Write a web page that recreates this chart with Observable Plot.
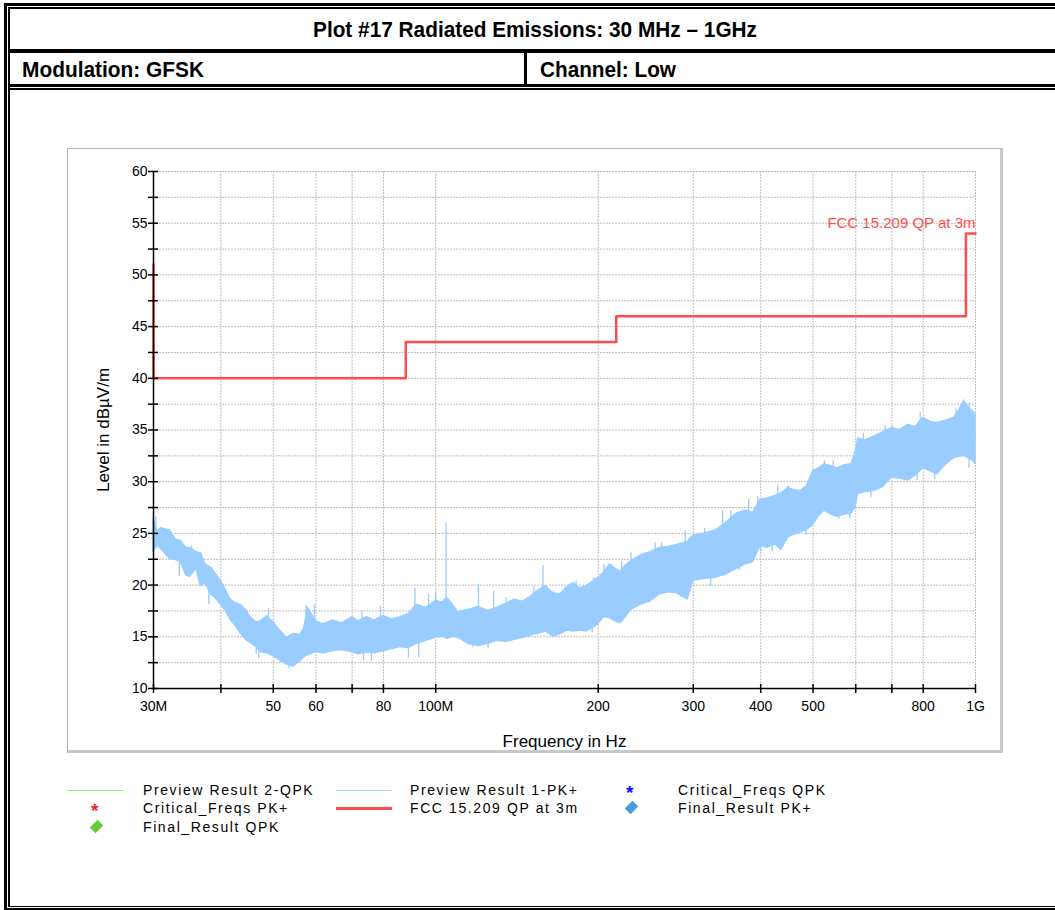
<!DOCTYPE html>
<html>
<head>
<meta charset="utf-8">
<script src="https://cdn.jsdelivr.net/npm/d3@7"></script>
<script src="https://cdn.jsdelivr.net/npm/@observablehq/plot@0.6"></script>
<style>
html, body { margin: 0; padding: 0; background: #fff; }
body { width: 1055px; height: 910px; overflow: hidden; position: relative; font-family: Arial, "Liberation Sans", sans-serif; }
.bl { position: absolute; background: #000; }
.hdr { position: absolute; font-family: "Liberation Sans", Arial, sans-serif; font-weight: bold; color: #000; white-space: nowrap; font-size: 22px; line-height: 24px; transform-origin: 0 50%; }
#chartbox { position: absolute; left: 67px; top: 148px; width: 932px; height: 601px;
  border-top: 1px solid #b4b4b4; border-left: 1px solid #b4b4b4; border-right: 3px solid #c8c8c8; border-bottom: 3px solid #c8c8c8; background: #fff; }
#chartbox svg { position: absolute; left: 0; top: 0; }
.lg { position: absolute; font-size: 14px; letter-spacing: 1.6px; color: #000; white-space: nowrap; line-height: 18px; }
.lline { position: absolute; }
.ast { position: absolute; font-size: 19px; font-weight: bold; line-height: 18px; }
.dia { position: absolute; width: 9px; height: 9px; transform: rotate(45deg) scale(0.9, 1.2); }
</style>
</head>
<body>
<!-- table borders -->
<div class="bl" style="left:4px;top:3px;width:1100px;height:3px"></div>
<div class="bl" style="left:8px;top:7px;width:1100px;height:1.5px"></div>
<div class="bl" style="left:4px;top:3px;width:3px;height:907px"></div>
<div class="bl" style="left:8px;top:7px;width:1.5px;height:900px"></div>
<div class="bl" style="left:8px;top:49px;width:1100px;height:4px"></div>
<div class="bl" style="left:8px;top:83.5px;width:1100px;height:3px"></div>
<div class="bl" style="left:8px;top:88px;width:1100px;height:1.5px"></div>
<div class="bl" style="left:524px;top:52px;width:3px;height:33px"></div>
<div class="bl" style="left:8px;top:905.5px;width:1100px;height:1.5px"></div>
<div class="bl" style="left:4px;top:908px;width:1100px;height:3px"></div>

<div class="hdr" id="title" data-w="444" data-x="313" style="top:18px;">Plot #17 Radiated Emissions: 30 MHz – 1GHz</div>
<div class="hdr" data-w="182" data-x="22" style="top:58px;">Modulation: GFSK</div>
<div class="hdr" data-w="136" data-x="540" style="top:58px;">Channel: Low</div>

<div id="chartbox"></div>

<!-- legend -->
<div class="lline" style="left:67px;top:789.5px;width:56px;height:1px;background:#99ee77"></div>
<div class="lg" style="left:143px;top:781px">Preview Result 2-QPK</div>
<div class="lline" style="left:336px;top:789.5px;width:56px;height:1.5px;background:#a8d0ff"></div>
<div class="lg" style="left:410px;top:781px">Preview Result 1-PK+</div>
<div class="ast" style="left:626px;top:784px;color:#1010ee">*</div>
<div class="lg" style="left:678px;top:781px">Critical_Freqs QPK</div>

<div class="ast" style="left:91px;top:802px;color:#ee2222">*</div>
<div class="lg" style="left:143px;top:799px">Critical_Freqs PK+</div>
<div class="lline" style="left:336px;top:807px;width:56px;height:2.5px;background:#ff4d4d"></div>
<div class="lg" style="left:410px;top:799px">FCC 15.209 QP at 3m</div>
<div class="dia" style="left:627px;top:803px;background:#4a9be0"></div>
<div class="lg" style="left:678px;top:799px">Final_Result PK+</div>

<div class="dia" style="left:92px;top:822px;background:#66cc33"></div>
<div class="lg" style="left:143px;top:818px">Final_Result QPK</div>

<script>
// ---- Preview Result 1-PK+ trace (read as lower/upper envelope), frequency in MHz, level in dBµV/m
const traceFreq = [30,30.5,31,32.2,33,33.7,34.5,35.1,36,36.7,37.5,38.3,39,40,40.8,41.7,42.5,43.5,44.5,45.4,46.5,47.4,48.7,50.1,51.5,53,54.5,56.1,57,58,60,62,64.6,67,70,72,74.5,77,80,83,86,89,92.3,96,100,103,105,108,110,115,120,125,130,135,140,145,150,155,160,165,170,175,180,185,190,195,200,205,210,215,220,225,230,240,250,260,270,280,293,300,315,330,345,360,375,387,400,412,424,437,450,462,475,487,500,512,525,540,556,572,589,600,606,625,650,675,700,725,750,775,800,825,850,880,913,935,952,975,990,1000];
const traceLow = [23.3,23.8,23.5,22.5,22.4,22.2,20.9,20.8,21.6,19.9,20.2,19.1,18.8,18.1,17.5,16.6,16.1,15.3,14.7,14.4,14.0,13.5,13.4,13.1,12.7,12.3,12.1,12.6,13.0,13.2,13.5,13.4,13.6,13.7,13.5,13.3,13.5,13.4,13.6,13.8,14.0,13.9,14.3,14.6,14.9,15.0,14.8,15.0,14.9,14.3,14.1,14.3,14.6,14.5,14.7,14.9,15.1,15.3,15.5,15.0,15.2,15.6,15.5,15.6,15.5,15.8,16.2,16.9,16.8,16.5,16.3,16.9,17.6,18.1,18.4,19.1,19.3,19.2,18.6,20.4,20.6,20.7,21.0,21.5,22.0,22.2,23.8,23.6,24.0,23.4,24.6,24.9,25.1,25.3,25.8,26.6,27.2,26.8,26.6,26.8,26.9,27.5,28.8,29.0,29.1,29.5,30.4,30.3,30.1,30.6,31.3,31.0,30.7,31.6,32.3,32.4,32.5,32.2,32.0,31.7];
const traceHigh = [26.4,25.2,25.5,25.3,24.4,24.3,23.6,23.6,23.2,23.1,22.0,21.7,21.2,20.4,19.6,18.6,18.3,18.1,17.6,16.9,16.4,16.5,17.0,16.4,15.6,14.9,15.3,15.2,15.8,17.8,16.5,16.2,16.6,16.3,16.9,16.5,16.9,16.6,17.0,16.7,16.9,17.2,18.1,17.8,18.5,18.3,18.8,18.0,17.4,17.6,17.9,17.5,17.8,18.2,18.6,18.4,18.9,19.5,19.9,19.2,19.1,19.8,20.2,19.7,19.9,20.3,20.7,21.2,22.0,21.6,21.3,21.9,22.3,22.9,23.2,23.6,23.7,23.9,24.2,24.8,25.0,25.3,26.0,26.9,27.2,27.0,28.3,28.4,28.6,28.9,29.4,29.2,29.1,29.6,31.0,31.3,31.7,31.5,31.3,31.6,31.7,33.0,34.2,34.0,34.4,34.8,35.2,35.0,35.5,35.3,36.2,35.8,35.7,35.9,36.2,37.0,37.8,37.1,36.8,36.5];
// isolated peaks and dips of the same trace
const spikeFreq = [30.3,30.9,33.5,35.3,36.7,38,38.5,42,43.8,46.5,47,49,51.5,53.5,57.5,59.6,73,73.5,76,79,89,91.5,93,97,100,104.5,117,120,125,128,135,152,155,158,165,175,182,195,196,205,212,215,221,228,230,240,245,255,262,285,290,315,320,323,340,352,365,380,395,400,420,430,450,485,500,525,545,558,585,620,640,680,700,740,780,790,840,920,950,973];
const spikeLow  = [23.5,23.5,20.8,22.0,21.5,18.1,19.5,16.5,16.0,13.3,12.9,14.0,12.5,11.9,14.0,14.0,14.0,12.7,12.6,14.0,13.0,15.0,13.0,15.0,15.5,15.5,14.0,15.5,13.9,15.5,15.5,16.0,15.8,16.5,16.0,16.0,16.5,15.4,17.0,17.5,17.5,16.4,17.5,17.5,19.0,18.1,19.0,20.0,20.0,18.8,21.0,21.5,20.6,19.9,22.0,22.5,21.4,23.0,24.0,23.2,23.2,25.0,25.0,24.8,27.0,28.0,28.0,26.4,26.4,30.0,28.5,30.5,31.0,30.1,30.1,32.0,30.2,33.0,33.0,31.3];
const spikeHigh = [26.6,25.5,23.0,23.8,23.1,20.5,21.7,18.5,18.0,15.5,15.0,17.7,14.5,14.0,18.0,18.1,17.5,15.0,15.0,18.0,15.5,19.7,16.0,19.1,19.3,26.0,16.5,20.1,16.5,19.4,18.8,19.9,18.0,21.9,19.4,19.4,20.4,18.0,20.7,22.0,22.0,19.0,22.3,20.0,23.1,21.0,22.8,24.1,24.1,22.0,25.2,25.5,23.0,23.0,27.2,27.2,24.5,28.3,28.6,26.0,26.0,29.6,29.6,27.5,31.2,32.0,32.0,29.0,29.0,34.7,31.0,35.4,35.4,33.0,33.0,36.7,33.0,37.0,37.9,37.6];

// ---- FCC 15.209 QP at 3m limit line
const limitFreq  = [30,30,88,88,216,216,960,960,1000];
const limitLevel = [51,40,40,43.5,43.5,46,46,54,54];
const limitName = "FCC 15.209 QP at 3m";

// ---- axes
const xTicks = [30,40,50,60,70,80,100,200,300,400,500,600,700,800,1000];
const xLabelFreq = [30,50,60,80,100,200,300,400,500,800,1000];
const xLabelText = ["30M","50","60","80","100M","200","300","400","500","800","1G"];
const xGrid = [40,50,60,70,80,100,200,300,400,500,600,700,800,1000];
const yTicks = [10,12.5,15,17.5,20,22.5,25,27.5,30,32.5,35,37.5,40,42.5,45,47.5,50,52.5,55,57.5,60];
const yLabelValue = [10,15,20,25,30,35,40,45,50,55,60];
const yLabelText = ["10","15","20","25","30","35","40","45","50","55","60"];
const yGrid = [12.5,15,17.5,20,22.5,25,27.5,30,32.5,35,37.5,40,42.5,45,47.5,50,52.5,55,57.5,60];
const xLabel = "Frequency in Hz";
const yLabel = "Level in dBµV/m";

const band = traceFreq.map((f, i) => ({f, lo: traceLow[i], hi: traceHigh[i]}));
const spikes = spikeFreq.map((f, i) => ({f, lo: spikeLow[i], hi: spikeHigh[i]}));
const limit = limitFreq.map((f, i) => ({f, v: limitLevel[i]}));
const xLab = xLabelFreq.map((f, i) => ({f, t: xLabelText[i]}));
const yLab = yLabelValue.map((v, i) => ({v, t: yLabelText[i]}));
const blue = "#99ccff";
const red = "#ff4d4d";
const gridStyle = {stroke: "#bdbdbd", strokeOpacity: 1, strokeWidth: 1, strokeDasharray: "2,1"};

const chart = Plot.plot({
  width: 932,
  height: 601,
  marginLeft: 85,
  marginRight: 25,
  marginTop: 22,
  marginBottom: 62,
  style: {fontFamily: "Arial, 'Liberation Sans', sans-serif", fontSize: "14px", background: "transparent", overflow: "visible"},
  x: {type: "log", domain: [30, 1000], axis: null},
  y: {domain: [10, 60], axis: null},
  marks: [
    Plot.gridY(yGrid, gridStyle),
    Plot.gridX(xGrid, gridStyle),
    Plot.areaY(band, {x: "f", y1: "lo", y2: "hi", fill: blue, stroke: blue, strokeWidth: 1.2}),
    Plot.ruleX(spikes, {x: "f", y1: "lo", y2: "hi", stroke: blue, strokeWidth: 1.3}),
    Plot.line(limit, {x: "f", y: "v", stroke: red, strokeWidth: 2.5}),
    Plot.text([limit[limit.length - 1]], {x: "f", y: "v", text: () => limitName, textAnchor: "end", dy: -10, fill: red, fontSize: 15}),
    Plot.ruleX([30], {stroke: "#000", strokeWidth: 1.5}),
    Plot.ruleY([10], {stroke: "#000", strokeWidth: 1.5}),
    // tick marks crossing the axis lines
    Plot.axisY(yTicks, {tickSize: 10, dx: 5, strokeWidth: 1.5, stroke: "#000", tickFormat: () => "", label: null}),
    Plot.axisX(xTicks, {tickSize: 9, dy: -4, strokeWidth: 1.5, stroke: "#000", tickFormat: () => "", label: null}),
    // tick labels
    Plot.text(yLab, {y: "v", text: "t", frameAnchor: "left", textAnchor: "end", dx: -6, fontSize: 14, fill: "#000", ariaLabel: "ytl"}),
    Plot.text(xLab, {x: "f", text: "t", frameAnchor: "bottom", lineAnchor: "top", dy: 13, fontSize: 14, fill: "#000", ariaLabel: "xtl"}),
    // axis titles
    Plot.text([xLabel], {frameAnchor: "bottom", lineAnchor: "middle", dy: 53, fontSize: 17, fill: "#000", text: (d) => d}),
    Plot.text([yLabel], {frameAnchor: "left", textAnchor: "middle", lineAnchor: "middle", dx: -50, rotate: -90, fontSize: 17, fill: "#000", text: (d) => d})
  ]
});
document.getElementById("chartbox").appendChild(chart);
d3.select(chart).selectAll('g[aria-label="ytl"] text, g[aria-label="xtl"] text').style("letter-spacing", "1.5px");

// fit header texts to the reference widths
document.querySelectorAll(".hdr").forEach((el) => {
  const w = el.getBoundingClientRect().width;
  const target = +el.dataset.w;
  el.style.left = el.dataset.x + "px";
  el.style.transform = `scaleX(${target / w})`;
});
</script>
</body>
</html>
